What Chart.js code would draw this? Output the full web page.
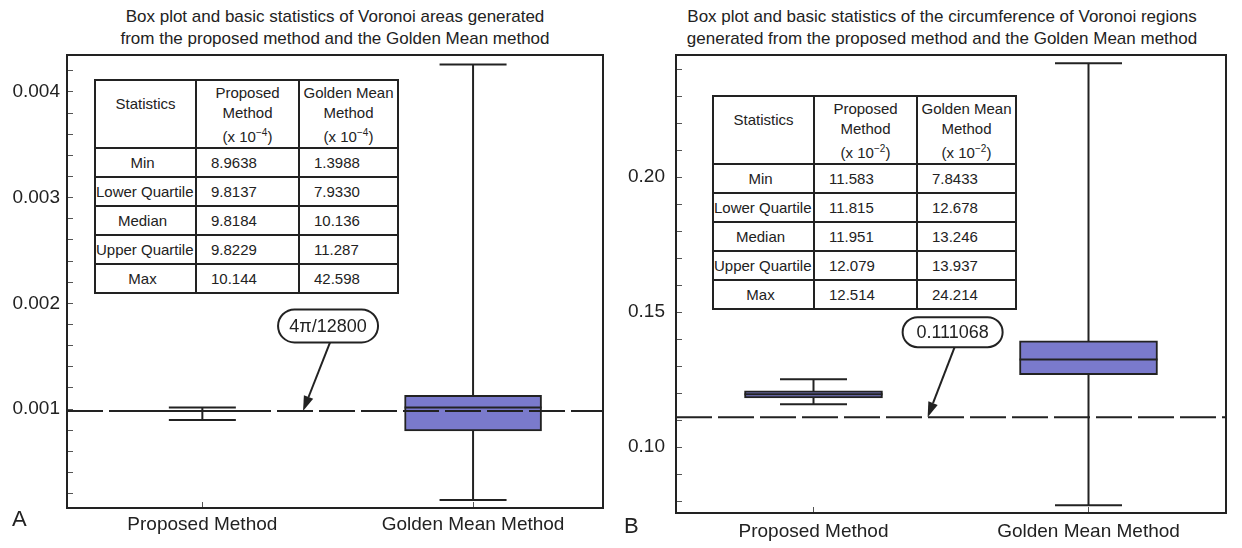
<!DOCTYPE html>
<html>
<head>
<meta charset="utf-8">
<script src="https://cdn.jsdelivr.net/npm/chart.js@4"></script>
<style>
body { margin:0; width:1242px; height:548px; background:#fff; position:relative; overflow:hidden;
       font-family:"Liberation Sans", Arial, sans-serif; color:#222; }
canvas { position:absolute; top:0; }
#chartA { left:0; }
#chartB { left:620px; }
.title { position:absolute; top:6px; font-size:17px; line-height:22px; text-align:center; white-space:nowrap; }
.panel { position:absolute; font-size:22px; }
table.stats { position:absolute; border-collapse:collapse; font-size:15px; background:#fff; table-layout:fixed; }
table.stats td { border:2px solid #222; padding:0; vertical-align:middle; white-space:nowrap; }
table.stats td.name { text-align:center; padding-right:6px; }
table.stats td.val { text-align:left; padding-left:14px; }
table.stats tr.head td { vertical-align:top; text-align:center; line-height:20px; padding-top:2px; }
table.stats tr.head td.name { vertical-align:top; padding-top:13px; padding-right:0; }
table.stats sup { font-size:10px; }
</style>
</head>
<body>
<div class="title" style="left:67px;width:536px">Box plot and basic statistics of Voronoi areas generated<br>from the proposed method and the Golden Mean method</div>
<div class="title" style="left:642px;width:600px">Box plot and basic statistics of the circumference of Voronoi regions<br>generated from the proposed method and the Golden Mean method</div>
<canvas id="chartA" width="620" height="548"></canvas>
<canvas id="chartB" width="622" height="548"></canvas>
<div class="panel" style="left:12px;top:506px">A</div>
<div class="panel" style="left:624px;top:513px">B</div>
<table class="stats" id="tableA" style="left:94px;top:79px;width:303px"></table>
<table class="stats" id="tableB" style="left:712px;top:95px;width:303px"></table>
<script>
const categories = ['Proposed Method', 'Golden Mean Method'];
const statNames = ['Min', 'Lower Quartile', 'Median', 'Upper Quartile', 'Max'];

// Voronoi areas (x 10^-4): min, Q1, median, Q3, max
const areaProposed = [8.9638, 9.8137, 9.8184, 9.8229, 10.144];
const areaGolden = [1.3988, 7.9330, 10.136, 11.287, 42.598];
// circumference (x 10^-2)
const circProposed = [11.583, 11.815, 11.951, 12.079, 12.514];
const circGolden = [7.8433, 12.678, 13.246, 13.937, 24.214];

const areaRef = 4 * Math.PI / 12800;
const circRef = 0.111068;
const areaRefLabel = '4\u03c0/12800';
const circRefLabel = '0.111068';

const areaTicks = [0.001, 0.002, 0.003, 0.004];
const circTicks = [0.10, 0.15, 0.20];

const ink = '#222';
const boxFill = 'rgb(122,122,204)';
const family = '"Liberation Sans", Arial, sans-serif';

function fillTable(id, exp, a, b) {
  let html = '<colgroup><col style="width:101px"><col style="width:103px"><col style="width:99px"></colgroup>';
  html += '<tr class="head" style="height:68px"><td class="name">Statistics</td>' +
    '<td>Proposed<br>Method<br>(x 10<sup>\u2212' + exp + '</sup>)</td>' +
    '<td>Golden Mean<br>Method<br>(x 10<sup>\u2212' + exp + '</sup>)</td></tr>';
  statNames.forEach((n, i) => {
    html += '<tr style="height:29px"><td class="name">' + n + '</td><td class="val">' +
      a[i].toPrecision(5) + '</td><td class="val">' + b[i].toPrecision(5) + '</td></tr>';
  });
  document.getElementById(id).innerHTML = html;
}

function boxDatasets(stats, boxW, capW) {
  const ds = [];
  stats.forEach((s, i) => {
    ds.push({ type: 'line', data: [{x: i + 1, y: s[0]}, {x: i + 1, y: s[4]}],
      borderColor: ink, borderWidth: 2, pointRadius: 0, order: 4 });
  });
  ds.push({ type: 'bar', data: stats.map((s, i) => ({x: i + 1, y: [s[1], s[3]]})),
    backgroundColor: boxFill, borderColor: ink, borderWidth: 2, borderSkipped: false,
    barThickness: boxW, order: 3 });
  ds.push({ type: 'scatter', data: stats.flatMap((s, i) => [{x: i + 1, y: s[0]}, {x: i + 1, y: s[4]}]),
    pointStyle: 'line', pointRadius: capW / 2, pointHoverRadius: capW / 2,
    pointBorderColor: ink, pointBorderWidth: 2, order: 2 });
  ds.push({ type: 'scatter', data: stats.map((s, i) => ({x: i + 1, y: s[2]})),
    pointStyle: 'line', pointRadius: boxW / 2, pointHoverRadius: boxW / 2,
    pointBorderColor: ink, pointBorderWidth: 2, order: 1 });
  return ds;
}

const frame = {
  id: 'frame',
  afterDraw(chart) {
    const {ctx, chartArea: a} = chart;
    ctx.save();
    ctx.strokeStyle = ink;
    ctx.lineWidth = 2;
    ctx.strokeRect(a.left, a.top, a.right - a.left, a.bottom - a.top);
    ctx.restore();
  }
};

function refLine(value, text, tipX, pillH) {
  return {
    id: 'refLine',
    afterDatasetsDraw(chart) {
      const {ctx, chartArea: a, scales} = chart;
      const y = scales.y.getPixelForValue(value);
      ctx.save();
      ctx.strokeStyle = ink;
      ctx.fillStyle = ink;
      ctx.lineWidth = 2;
      ctx.setLineDash([36, 6]);
      ctx.beginPath();
      ctx.moveTo(a.left, y);
      ctx.lineTo(a.right, y);
      ctx.stroke();
      ctx.setLineDash([]);

      // callout pill + arrow
      const tx = scales.x.getPixelForValue(tipX);
      const cx = tx + 25, cy = y - 85, w = 100, h = pillH;
      const r = h / 2;
      ctx.beginPath();
      ctx.moveTo(cx - w / 2 + r, cy - r);
      ctx.lineTo(cx + w / 2 - r, cy - r);
      ctx.arc(cx + w / 2 - r, cy, r, -Math.PI / 2, Math.PI / 2);
      ctx.lineTo(cx - w / 2 + r, cy + r);
      ctx.arc(cx - w / 2 + r, cy, r, Math.PI / 2, Math.PI * 1.5);
      ctx.closePath();
      ctx.fillStyle = '#fff';
      ctx.fill();
      ctx.stroke();
      ctx.fillStyle = ink;
      ctx.font = '18px ' + family;
      ctx.textAlign = 'center';
      ctx.textBaseline = 'middle';
      ctx.fillText(text, cx, cy + 1);

      const sx = cx + 2, sy = cy + r;
      const ang = Math.atan2(y - sy, tx - sx);
      const hl = 15, hw = 5;
      const bx = tx - Math.cos(ang) * hl, by = y - Math.sin(ang) * hl;
      ctx.beginPath();
      ctx.moveTo(sx, sy);
      ctx.lineTo(bx, by);
      ctx.stroke();
      ctx.beginPath();
      ctx.moveTo(tx, y);
      ctx.lineTo(bx + Math.sin(ang) * hw, by - Math.cos(ang) * hw);
      ctx.lineTo(bx - Math.sin(ang) * hw, by + Math.cos(ang) * hw);
      ctx.closePath();
      ctx.fill();
      ctx.restore();
    }
  };
}

function makeChart(id, o) {
  const stats = [o.proposed, o.golden];
  const minor = [];
  for (let k = 1; k * o.minorStep <= o.yMax; k++) {
    const v = +(k * o.minorStep).toFixed(6);
    if (v > o.yMin) minor.push(v);
  }
  return new Chart(document.getElementById(id), {
    type: 'bar',
    data: { datasets: boxDatasets(stats, o.boxW, o.capW) },
    options: {
      responsive: false,
      animation: false,
      devicePixelRatio: 1,
      layout: { autoPadding: false, padding: { top: 55, right: o.padRight, left: 0, bottom: 0 } },
      plugins: { legend: { display: false }, tooltip: { enabled: false } },
      scales: {
        x: {
          type: 'linear', min: o.xMin, max: o.xMax, offset: false,
          afterBuildTicks: s => { s.ticks = [{value: 1}, {value: 2}]; },
          ticks: { callback: v => categories[v - 1], font: { size: 19, family }, color: ink,
                   padding: o.xPad, maxRotation: 0, autoSkip: false },
          grid: { drawOnChartArea: false, offset: false, tickLength: -6, color: '#555', lineWidth: 1 },
          border: { display: false },
          afterFit: s => { s.height = o.xHeight; s.paddingLeft = 0; s.paddingRight = 0; }
        },
        y: {
          type: 'linear', min: o.yMin, max: o.yMax, beginAtZero: false,
          afterBuildTicks: s => { s.ticks = minor.map(v => ({value: v})); },
          ticks: {
            callback: v => o.major.some(t => Math.abs(t - v) < o.minorStep / 10) ? v.toFixed(o.digits) : '',
            font: { size: 19, family }, color: ink, padding: o.yPad, autoSkip: false
          },
          grid: { drawOnChartArea: false, tickLength: -6, color: '#555', lineWidth: 1 },
          border: { display: false },
          afterFit: s => { s.width = o.yWidth; s.paddingTop = 0; s.paddingBottom = 0; }
        }
      }
    },
    plugins: [frame, refLine(o.ref, o.refLabel, o.tipX, o.pillH)]
  });
}

fillTable('tableA', 4, areaProposed, areaGolden);
fillTable('tableB', 2, circProposed, circGolden);

makeChart('chartA', {
  proposed: areaProposed.map(v => v * 1e-4), golden: areaGolden.map(v => v * 1e-4),
  ref: areaRef, refLabel: areaRefLabel, tipX: 1.372, pillH: 33,
  xMin: 0.5, xMax: 2.48, yMin: 0.0000634, yMax: 0.00435, minorStep: 0.0002,
  major: areaTicks, digits: 3, boxW: 137, capW: 67,
  padRight: 17, yWidth: 67, xHeight: 40, xPad: 11, yPad: 13
});

makeChart('chartB', {
  proposed: circProposed.map(v => v * 1e-2), golden: circGolden.map(v => v * 1e-2),
  ref: circRef, refLabel: circRefLabel, tipX: 1.415, pillH: 30,
  xMin: 0.5, xMax: 2.5, yMin: 0.07556, yMax: 0.2452, minorStep: 0.01,
  major: circTicks, digits: 2, boxW: 138, capW: 67,
  padRight: 16, yWidth: 56, xHeight: 35, xPad: 13, yPad: 17
});
</script>
</body>
</html>
